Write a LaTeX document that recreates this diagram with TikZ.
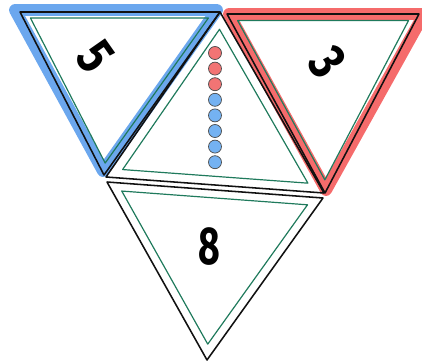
\documentclass[tikz,border=0pt]{standalone}
\usepackage{fontspec}
\setsansfont{Fira Sans}
\usepackage{xcolor}
\usetikzlibrary{calc}
\definecolor{hl-blue}{HTML}{3A8AE8}
\definecolor{hl-red}{HTML}{F23A3A}
\definecolor{inner-green}{HTML}{1F7A5C}
\definecolor{bead-red}{HTML}{F27474}
\definecolor{bead-blue}{HTML}{74B2F2}
\definecolor{jet}{HTML}{111111}

\begin{document}
\begin{tikzpicture}[x=0.025cm, y=-0.025cm,
    every node/.style={font=\sffamily\bfseries\fontsize{38}{38}\selectfont},
    outline/.style={draw=jet, line width=1.1pt, line join=round},
    inset/.style={draw=inner-green, line width=0.85pt, line join=round},
    marker/.style={line width=8.5pt, line join=round, line cap=round, opacity=0.75},
    bead/.style={circle, draw=jet!75, line width=0.5pt, minimum size=0.325cm, inner sep=0pt}]
    \useasboundingbox (0,0) rectangle (422,363);
    % corners of the four pieces
    \coordinate (L1) at (20,12);   \coordinate (L2) at (220,12);  \coordinate (L3) at (104,175);
    \coordinate (R1) at (227,14);  \coordinate (R2) at (419,14);  \coordinate (R3) at (325,193);
    \coordinate (M1) at (220,12);  \coordinate (M2) at (106,177); \coordinate (M3) at (324,193);
    \coordinate (B1) at (107,182); \coordinate (B2) at (323,198); \coordinate (B3) at (207,360);
    \coordinate (Lc) at (barycentric cs:L1=1,L2=1,L3=1);
    \coordinate (Rc) at (barycentric cs:R1=1,R2=1,R3=1);
    \coordinate (Mc) at (barycentric cs:M1=1,M2=1,M3=1);
    \coordinate (Bc) at (barycentric cs:B1=1,B2=1,B3=1);
    % highlights
    \draw[marker, hl-blue] (15,10) -- (217,10) -- (103,171) -- cycle;
    \draw[marker, hl-red] (229,14) -- (424,14) -- (326,190) -- cycle;
    % outlines
    \draw[outline] (L1) -- (L2) -- (L3) -- cycle;
    \draw[outline] (R1) -- (R2) -- (R3) -- cycle;
    \draw[outline] (M1) -- (M2) -- (M3) -- cycle;
    \draw[outline] (B1) -- (B2) -- (B3) -- cycle;
    \draw[inset] ($(Lc)!0.89!(L1)$) -- ($(Lc)!0.89!(L2)$) -- ($(Lc)!0.89!(L3)$) -- cycle;
    \draw[inset] ($(Rc)!0.89!(R1)$) -- ($(Rc)!0.89!(R2)$) -- ($(Rc)!0.89!(R3)$) -- cycle;
    \draw[inset] ($(Mc)!0.85!(M1)$) -- ($(Mc)!0.85!(M2)$) -- ($(Mc)!0.85!(M3)$) -- cycle;
    \draw[inset] ($(Bc)!0.86!(B1)$) -- ($(Bc)!0.86!(B2)$) -- ($(Bc)!0.86!(B3)$) -- cycle;
    % numbers
    \node[rotate=-55, xscale=0.8] (five) at (95,57) {5};
    \node[rotate=-55, xscale=0.8] (three) at (328,62) {3};
    \node[xscale=0.7] (eight) at (209,247) {8};
    % beads
    \foreach \i/\col in {0/bead-red,1/bead-red,2/bead-red,3/bead-blue,
                         4/bead-blue,5/bead-blue,6/bead-blue,7/bead-blue}
      \node[bead, fill=\col] (b\i) at (215,53+15.6*\i) {};
\end{tikzpicture}
\end{document}
